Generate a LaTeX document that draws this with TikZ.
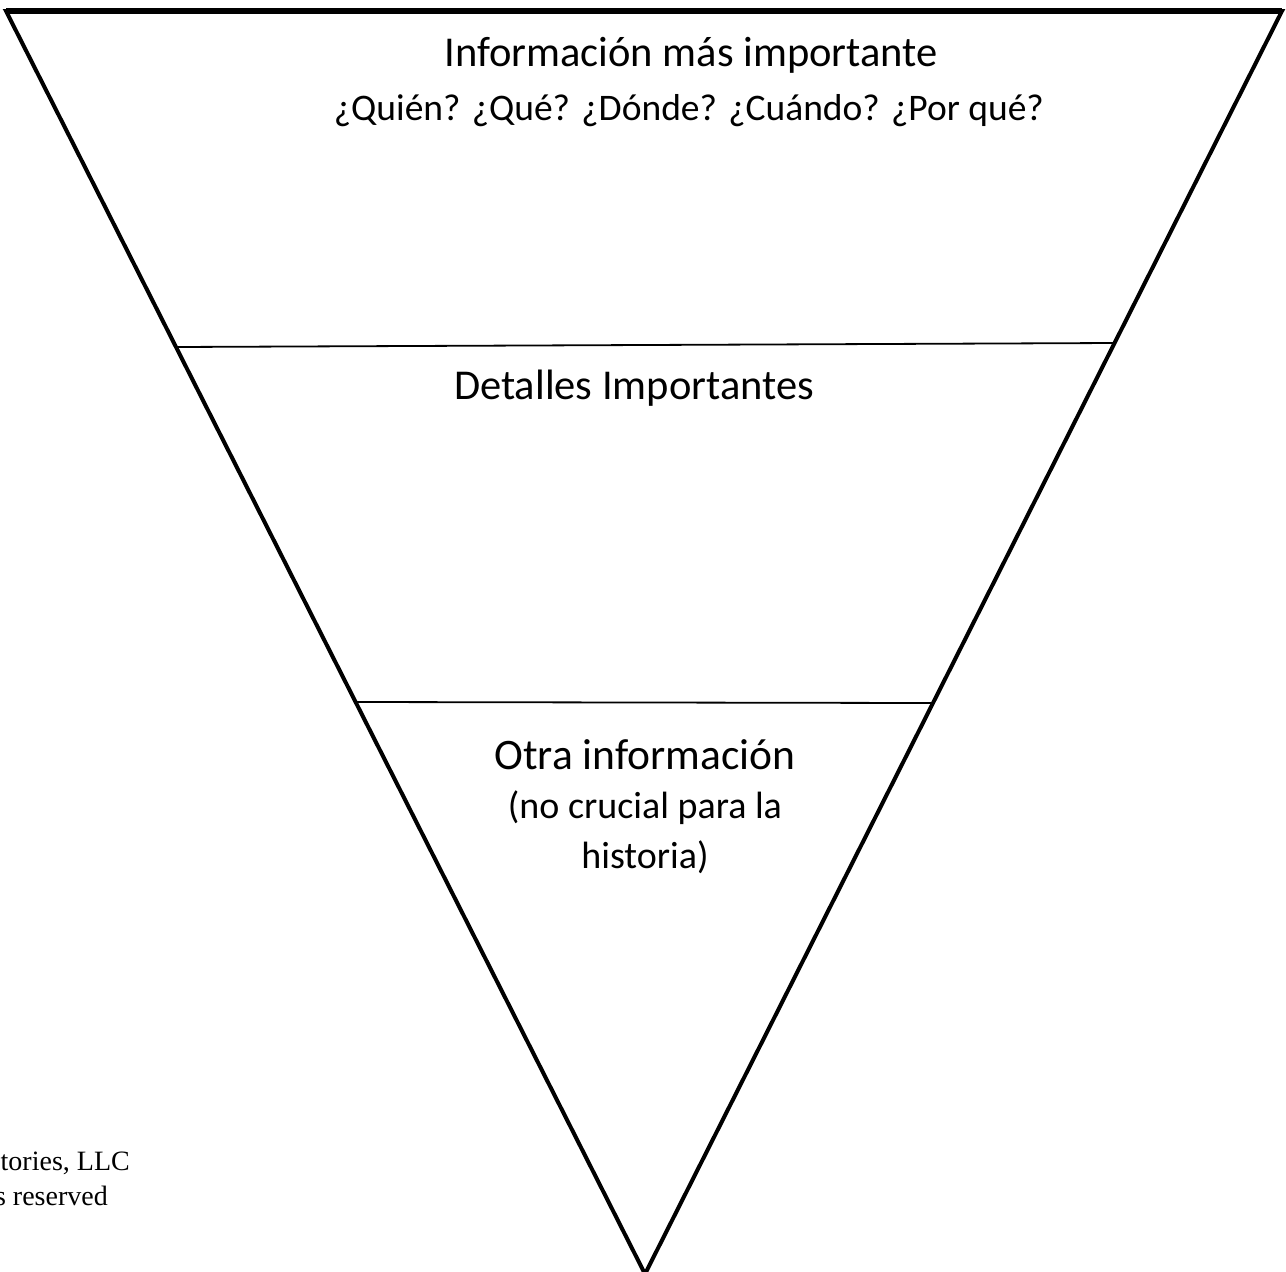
\documentclass[tikz,border=0pt]{standalone}
\usepackage{fontspec}
\setmainfont{Carlito}
\newfontfamily\copyfont{Liberation Serif}
\begin{document}
\begin{tikzpicture}[x=1pt,y=-1pt,
  edge/.style={line width=4pt, line join=miter},
  divider/.style={line width=1.8pt},
  bigtext/.style={font=\fontsize{42.5}{50}\selectfont, anchor=base, inner sep=0pt},
  smalltext/.style={font=\fontsize{38}{50}\selectfont, anchor=base, inner sep=0pt},
  copytext/.style={font=\copyfont\fontsize{28}{32}\selectfont, anchor=base east, inner sep=0pt}]
\useasboundingbox (0,0) rectangle (1286,1272);
\coordinate (tl) at (6,11);
\coordinate (tr) at (1282,11);
\coordinate (ap) at (645,1274);
\draw[edge] (tl) -- (tr) -- (ap) -- cycle;
\draw[line width=5.5pt] (tl) -- (tr);
\coordinate (d1l) at (176,347);
\coordinate (d1r) at (1114,343);
\coordinate (d2l) at (356,702);
\coordinate (d2r) at (932,703);
\draw[divider] (d1l) -- (d1r);
\draw[divider] (d2l) -- (d2r);
\node[bigtext] (t1) at (691,66) {Información más importante};
\node[smalltext, font=\fontsize{37.5}{50}\selectfont] (t2) at (689,120) {¿Quién? ¿Qué? ¿Dónde? ¿Cuándo? ¿Por qué?};
\node[bigtext] (t3) at (634,399) {Detalles Importantes};
\node[bigtext, font=\fontsize{43.5}{50}\selectfont] (t4) at (645,769) {Otra información};
\node[smalltext] (t5) at (645,818) {(no crucial para la};
\node[smalltext] (t6) at (645,868) {historia)};
\node[copytext] (c1) at (130,1170) {tories, LLC};
\node[copytext] (c2) at (108,1205) {s reserved};
\end{tikzpicture}
\end{document}
